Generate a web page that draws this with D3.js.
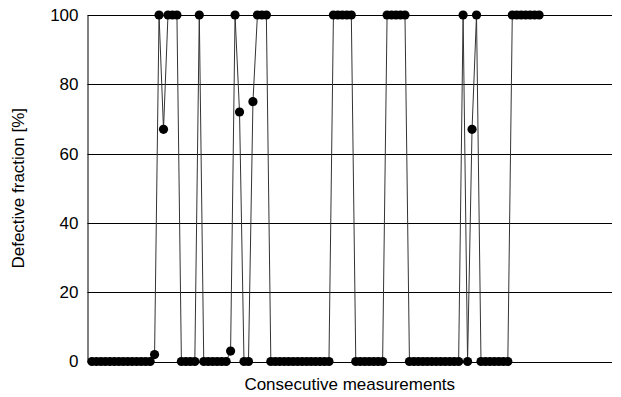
<!DOCTYPE html>
<html>
<head>
<meta charset="utf-8">
<script src="https://cdn.jsdelivr.net/npm/d3@7"></script>
<style>
  body { margin: 0; background: #fff; }
  text { font-family: "Liberation Sans", Arial, sans-serif; }
</style>
</head>
<body>
<div id="chart"></div>
<script>
const defective = [
  0, 0, 0, 0, 0, 0, 0, 0, 0, 0, 0, 0, 0, 0,
  2,
  100, 67, 100, 100, 100,
  0, 0, 0, 0,
  100,
  0, 0, 0, 0, 0, 0,
  3, 100, 72,
  0, 0,
  75, 100, 100, 100,
  0, 0, 0, 0, 0, 0, 0, 0, 0, 0, 0, 0, 0, 0,
  100, 100, 100, 100, 100,
  0, 0, 0, 0, 0, 0, 0,
  100, 100, 100, 100, 100,
  0, 0, 0, 0, 0, 0, 0, 0, 0, 0, 0, 0,
  100, 0, 67, 100,
  0, 0, 0, 0, 0, 0, 0,
  100, 100, 100, 100, 100, 100, 100
];
const yTicks = [0, 20, 40, 60, 80, 100];

const width = 621, height = 397;
const margin = { top: 15, right: 9, bottom: 35.5, left: 87.5 };

const svg = d3.select('#chart')
  .append('svg')
  .attr('width', width)
  .attr('height', height);

const x = d3.scaleLinear()
  .domain([0, 117.3])
  .range([margin.left, width - margin.right]);
const y = d3.scaleLinear()
  .domain([0, 100])
  .range([height - margin.bottom, margin.top]);

// horizontal grid
svg.append('g')
  .selectAll('line')
  .data(yTicks)
  .enter().append('line')
  .attr('x1', margin.left)
  .attr('x2', width - margin.right)
  .attr('y1', d => Math.round(y(d)) + 0.5)
  .attr('y2', d => Math.round(y(d)) + 0.5)
  .attr('stroke', '#000')
  .attr('stroke-width', 1);

// y axis
const yAxis = svg.append('g')
  .attr('transform', `translate(${margin.left},0)`)
  .call(d3.axisLeft(y).tickValues(yTicks).tickSize(0).tickPadding(9));
yAxis.select('.domain').attr('stroke', '#000');
yAxis.selectAll('text')
  .attr('font-size', 17)
  .attr('fill', '#000')
  .style('font-family', '"Liberation Sans", Arial, sans-serif');

const line = d3.line()
  .x((d, i) => x(i + 1))
  .y(d => y(d));

svg.append('path')
  .datum(defective)
  .attr('d', line)
  .attr('fill', 'none')
  .attr('stroke', '#333')
  .attr('stroke-width', 1);

svg.append('g')
  .selectAll('circle')
  .data(defective)
  .enter().append('circle')
  .attr('cx', (d, i) => x(i + 1))
  .attr('cy', d => y(d))
  .attr('r', 4.6)
  .attr('fill', '#000');

svg.append('text')
  .attr('x', (margin.left + width - margin.right) / 2)
  .attr('y', 390)
  .attr('text-anchor', 'middle')
  .attr('font-size', 17)
  .text('Consecutive measurements');

svg.append('text')
  .attr('transform', `translate(24,${(margin.top + height - margin.bottom) / 2}) rotate(-90)`)
  .attr('text-anchor', 'middle')
  .attr('font-size', 17)
  .text('Defective fraction [%]');
</script>
</body>
</html>
